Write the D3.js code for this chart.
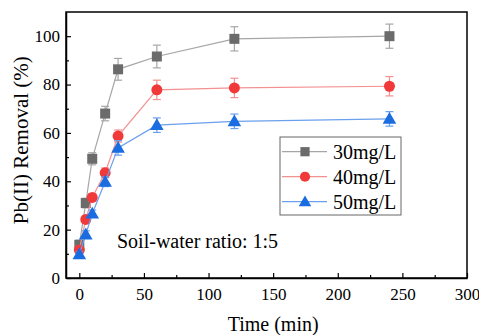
<!DOCTYPE html>
<html>
<head>
<meta charset="utf-8">
<script src="https://cdn.jsdelivr.net/npm/d3@7"></script>
<style>
  body { margin: 0; background: #fff; }
  svg { display: block; }
  svg text { font-family: "Liberation Serif", "Times New Roman", serif; fill: #000; }
</style>
</head>
<body>
<svg width="479" height="335"></svg>
<script>
// Data
const times = [0, 5, 10, 20, 30, 60, 120, 240];
const removal30 = [13.7, 31, 49.3, 68, 86.3, 91.6, 98.9, 100];
const error30   = [2, 2, 2.5, 3, 4.5, 4.7, 5, 5];
const removal40 = [11.6, 24.2, 33.3, 43.5, 58.7, 77.8, 78.6, 79.3];
const error40   = [1.5, 1.5, 1.5, 2, 2.5, 4, 4, 4];
const removal50 = [9.8, 18, 26.6, 39.8, 53.8, 63.2, 64.8, 65.8];
const error50   = [1, 1.5, 1.5, 2, 3, 3, 3, 3];
const labels = ['30mg/L', '40mg/L', '50mg/L'];
const xTicks = [0, 50, 100, 150, 200, 250, 300];
const yTicks = [0, 20, 40, 60, 80, 100];

const series = [
  { label: labels[0], values: removal30, errors: error30, symbol: d3.symbolSquare,   size: 100, fill: '#6b6b6b', line: '#a6a6a6' },
  { label: labels[1], values: removal40, errors: error40, symbol: d3.symbolCircle,   size: 95,  fill: '#f03a3a', line: '#f49090' },
  { label: labels[2], values: removal50, errors: error50, symbol: d3.symbolTriangle, size: 80,  fill: '#1a6de0', line: '#6aa0ec' }
];

function draw () {
  let svg = d3.select('svg');
  let margin = { left: 66, top: 12, right: 12, bottom: 57 };
  let width = 479, height = 335;

  let x = d3.scaleLinear().domain([-10.3, 300]).range([margin.left, width - margin.right]);
  let y = d3.scaleLinear().domain([0, 110]).range([height - margin.bottom, margin.top]);

  // Frame
  svg.append('rect')
    .attr('x', margin.left).attr('y', margin.top)
    .attr('width', width - margin.left - margin.right)
    .attr('height', height - margin.top - margin.bottom)
    .attr('fill', 'none').attr('stroke', '#000').attr('stroke-width', 1.5);

  // Axes (ticks inward)
  svg.append('g')
    .attr('transform', `translate(0, ${height - margin.bottom})`)
    .call(d3.axisBottom(x).tickValues(xTicks).tickSizeInner(-5).tickSizeOuter(0).tickPadding(10));
  svg.append('g')
    .attr('transform', `translate(0, ${height - margin.bottom})`)
    .call(d3.axisBottom(x).tickValues(d3.range(25, 300, 50)).tickSizeInner(-3).tickSizeOuter(0).tickFormat(''))
    .call(g => g.select('.domain').remove());

  svg.append('g')
    .attr('transform', `translate(${margin.left}, 0)`)
    .call(d3.axisLeft(y).tickValues(yTicks).tickSizeInner(-5).tickSizeOuter(0).tickPadding(6));
  svg.append('g')
    .attr('transform', `translate(${margin.left}, 0)`)
    .call(d3.axisLeft(y).tickValues(d3.range(10, 110, 20)).tickSizeInner(-3).tickSizeOuter(0).tickFormat(''))
    .call(g => g.select('.domain').remove());

  svg.selectAll('.domain').attr('stroke-width', 1.5);
  svg.selectAll('.tick line').attr('stroke-width', 1.2);
  svg.selectAll('.tick text').attr('font-size', 17);

  // Series
  let line = d3.line().x(d => x(d.t)).y(d => y(d.v));

  series.forEach(s => {
    let pts = times.map((t, i) => ({ t: t, v: s.values[i], e: s.errors[i] }));
    let g = svg.append('g');

    g.append('path')
      .datum(pts)
      .attr('d', line)
      .attr('fill', 'none')
      .attr('stroke', s.line)
      .attr('stroke-width', 1.2);

    let eb = g.selectAll('.err').data(pts).enter().append('g')
      .attr('stroke', s.line).attr('stroke-width', 1.2);
    eb.append('line')
      .attr('x1', d => x(d.t)).attr('x2', d => x(d.t))
      .attr('y1', d => y(d.v - d.e)).attr('y2', d => y(d.v + d.e));
    eb.append('line')
      .attr('x1', d => x(d.t) - 4).attr('x2', d => x(d.t) + 4)
      .attr('y1', d => y(d.v + d.e)).attr('y2', d => y(d.v + d.e));
    eb.append('line')
      .attr('x1', d => x(d.t) - 4).attr('x2', d => x(d.t) + 4)
      .attr('y1', d => y(d.v - d.e)).attr('y2', d => y(d.v - d.e));

    g.selectAll('.pt').data(pts).enter().append('path')
      .attr('d', d3.symbol().type(s.symbol).size(s.size))
      .attr('transform', d => `translate(${x(d.t)}, ${y(d.v) + (s.symbol === d3.symbolTriangle ? 1 : 0)})`)
      .attr('fill', s.fill);
  });

  // Legend
  let lg = svg.append('g').attr('transform', 'translate(280, 137)');
  lg.append('rect')
    .attr('width', 121).attr('height', 78)
    .attr('fill', '#fff').attr('stroke', '#666').attr('stroke-width', 1);
  series.forEach((s, i) => {
    let row = lg.append('g').attr('transform', `translate(0, ${14.7 + i * 25})`);
    row.append('line').attr('x1', 2).attr('x2', 47).attr('stroke', s.line).attr('stroke-width', 1.2);
    row.append('path')
      .attr('d', d3.symbol().type(s.symbol).size(s.size * 0.85))
      .attr('transform', `translate(25, ${s.symbol === d3.symbolTriangle ? 1 : 0})`)
      .attr('fill', s.fill);
    row.append('text')
      .attr('x', 53).attr('y', 7)
      .attr('font-size', 20)
      .text(s.label);
  });

  // Annotation
  svg.append('text')
    .attr('x', 117).attr('y', 248)
    .attr('font-size', 20)
    .text('Soil-water ratio: 1:5');

  // Axis titles
  svg.append('text')
    .attr('x', x(150)).attr('y', 331)
    .attr('text-anchor', 'middle')
    .attr('font-size', 20)
    .text('Time (min)');
  svg.append('text')
    .attr('transform', `translate(28, ${y(57)}) rotate(-90)`)
    .attr('text-anchor', 'middle')
    .attr('font-size', 21)
    .text('Pb(II) Removal (%)');
}

draw();
</script>
</body>
</html>
